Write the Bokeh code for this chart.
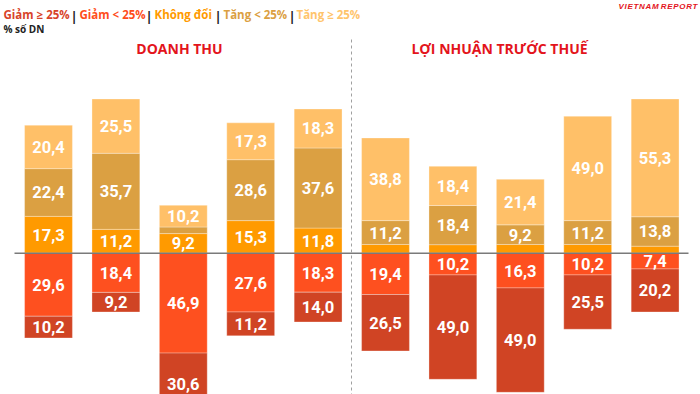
from bokeh.plotting import figure
from bokeh.models import ColumnDataSource, Range1d
from bokeh.core.properties import value
from bokeh.embed import file_html
from bokeh.resources import INLINE

# ---------------- data ----------------
groups = ["DOANH THU", "LỢI NHUẬN TRƯỚC THUẾ"]
categories = ["Giảm ≥ 25%", "Giảm < 25%", "Không đổi", "Tăng < 25%", "Tăng ≥ 25%"]
unit_label = "% số DN"
# 5 bars for each group (Doanh thu, then Lợi nhuận trước thuế)
giam_ge25 = [10.2, 9.2, 30.6, 11.2, 14.0, 26.5, 49.0, 49.0, 25.5, 20.2]
giam_lt25 = [29.6, 18.4, 46.9, 27.6, 18.3, 19.4, 10.2, 16.3, 10.2, 7.4]
khong_doi = [17.3, 11.2, 9.2, 15.3, 11.8, 4.1, 4.0, 4.1, 4.1, 3.3]
tang_lt25 = [22.4, 35.7, 3.1, 28.6, 37.6, 11.2, 18.4, 9.2, 11.2, 13.8]
tang_ge25 = [20.4, 25.5, 10.2, 17.3, 18.3, 38.8, 18.4, 21.4, 49.0, 55.3]

colors = {
    "Giảm ≥ 25%": "#D04424",
    "Giảm < 25%": "#FE501F",
    "Không đổi": "#FF9A00",
    "Tăng < 25%": "#DBA042",
    "Tăng ≥ 25%": "#FFC068",
}
legend_colors = ["#D8432A", "#FF4D1C", "#FF9A00", "#DBA042", "#FFC46C"]

# ---------------- layout helpers (reference pixel -> data) ----------------
X0, DX = 48.0, 67.4      # first bar centre, bar spacing (px)
Y0, DY = 252.7, 2.13     # zero line (px), px per percent

def px2x(px):
    return (px - X0) / DX

def px2y(py):
    return (Y0 - py) / DY

W, H = 700, 394
p = figure(width=W, height=H, output_backend="svg", toolbar_location=None,
           x_range=Range1d(px2x(0), px2x(W)), y_range=Range1d(px2y(H), px2y(0)),
           min_border=0)
p.axis.visible = False
p.grid.visible = False
p.outline_line_color = None
p.background_fill_color = "white"
p.border_fill_color = "white"

n = len(giam_ge25)
xs = list(range(n))
bar_w = 0.71

# stacked segments
segments = []
b = [0.0] * n
for name, vals in [("Không đổi", khong_doi), ("Tăng < 25%", tang_lt25), ("Tăng ≥ 25%", tang_ge25)]:
    t = [b[i] + vals[i] for i in range(n)]
    segments.append((name, vals, list(b), t))
    b = t
b = [0.0] * n
for name, vals in [("Giảm < 25%", giam_lt25), ("Giảm ≥ 25%", giam_ge25)]:
    t = [b[i] - vals[i] for i in range(n)]
    segments.append((name, vals, t, list(b)))
    b = t

y_low_label = px2y(383)   # keep labels inside the visible area
lab_x, lab_y, lab_t = [], [], []
for name, vals, bot, top in segments:
    src = ColumnDataSource(dict(x=xs, bottom=bot, top=top))
    p.vbar(x="x", bottom="bottom", top="top", width=bar_w, source=src,
           fill_color=colors[name], line_color="#FFFFFF", line_alpha=0.3, line_width=1)
    for i in range(n):
        if vals[i] >= 5:
            lab_x.append(xs[i])
            lab_y.append(max((bot[i] + top[i]) / 2, y_low_label))
            lab_t.append(f"{vals[i]:.1f}".replace(".", ","))

lsrc = ColumnDataSource(dict(x=lab_x, y=lab_y, t=lab_t))
p.text(x="x", y="y", text="t", source=lsrc, text_color="white",
       text_font=value("Roboto"), text_font_style="bold",
       text_font_size="16.5px", text_align="center", text_baseline="middle")

# zero line
p.segment(x0=[px2x(14)], y0=[0], x1=[px2x(688)], y1=[0], line_color="#7A7A7A", line_width=1.5)

# group divider
p.segment(x0=[px2x(351)], y0=[px2y(39)], x1=[px2x(351)], y1=[px2y(400)],
          line_color="#A0A0A0", line_width=1, line_dash="3 3")

# group headers
p.text(x=[px2x(179), px2x(499)], y=[px2y(48)] * 2, text=groups,
       text_color="#E3141C", text_font=value("Open Sans"), text_font_style="bold",
       text_font_size="14px", text_align="center", text_baseline="middle")

# coloured legend line
leg_x = [3, 79, 154, 223, 296]
sep_x = [73.5, 148.5, 217.5, 291.5]
p.text(x=[px2x(v) for v in leg_x], y=[px2y(13.5)] * 5, text=categories,
       text_color=legend_colors, text_font=value("Open Sans"), text_font_style="bold",
       text_font_size="11.5px", text_align="left", text_baseline="alphabetic")
p.text(x=[px2x(v) for v in sep_x], y=[px2y(15)] * 4, text=["|"] * 4,
       text_color="#222222", text_font=value("Open Sans"), text_font_style="bold",
       text_font_size="13px", text_align="center", text_baseline="alphabetic")
p.text(x=[px2x(3)], y=[px2y(28)], text=[unit_label], text_color="#222222",
       text_font=value("Open Sans"), text_font_style="bold", text_font_size="10px",
       text_align="left", text_baseline="alphabetic")

# source mark at the top right
p.text(x=[px2x(697)], y=[px2y(1)], text=["V\u200aI\u200aE\u200aT\u200aN\u200aA\u200aM R\u200aE\u200aP\u200aO\u200aR\u200aT"],
       text_color="#E3141C", text_font=value("Liberation Sans"), text_font_style="bold italic",
       text_font_size="8px", text_align="right", text_baseline="top")

open("out.html", "w").write(file_html(p, INLINE))
